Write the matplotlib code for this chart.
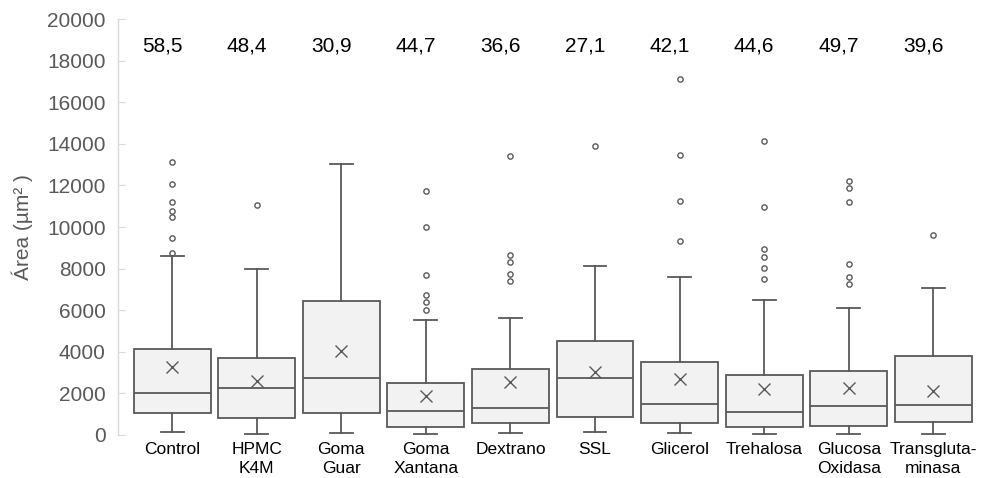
import matplotlib
matplotlib.use("Agg")
import matplotlib.pyplot as plt
from matplotlib.transforms import blended_transform_factory

plt.rcParams['font.family'] = ['Liberation Sans', 'DejaVu Sans']

categories = ["Control", "HPMC\nK4M", "Goma\nGuar", "Goma\nXantana", "Dextrano",
              "SSL", "Glicerol", "Trehalosa", "Glucosa\nOxidasa", "Transgluta-\nminasa"]

whisker_low = [128, 48, 80, 48, 80, 128, 80, 32, 32, 32]
q1 = [1074, 801, 1042, 385, 561, 881, 561, 369, 433, 641]
median = [2003, 2244, 2724, 1154, 1282, 2724, 1474, 1090, 1410, 1442]
q3 = [4135, 3702, 6426, 2484, 3157, 4535, 3526, 2885, 3093, 3798]
whisker_high = [8606, 7981, 13013, 5529, 5609, 8125, 7580, 6490, 6090, 7067]
means = [3284, 2612, 4054, 1891, 2532, 3045, 2692, 2196, 2276, 2115]
outliers = [
    [13125, 12050, 11186, 10785, 10465, 9455, 8766],
    [11057],
    [],
    [11715, 9984, 7692, 6731, 6410, 6010],
    [13397, 8654, 8333, 7740, 7420],
    [13910],
    [17115, 13445, 11250, 9343],
    [14135, 10945, 8926, 8574, 8045, 7484],
    [12211, 11859, 11186, 8237, 7580, 7260],
    [9631],
]
top_labels = [58.5, 48.4, 30.9, 44.7, 36.6, 27.1, 42.1, 44.6, 49.7, 39.6]

edge = "#595959"
fill = "#f2f2f2"

fig = plt.figure(figsize=(9.84, 4.78), dpi=100)
ax = fig.add_axes([0.12, 0.09, 0.88, 0.870])

stats = []
for i, name in enumerate(categories):
    stats.append(dict(label=name, whislo=whisker_low[i], q1=q1[i], med=median[i],
                      q3=q3[i], whishi=whisker_high[i], mean=means[i],
                      fliers=outliers[i]))

positions = list(range(len(categories)))
ax.bxp(stats, positions=positions, widths=0.91, patch_artist=True,
       showmeans=True, showfliers=True,
       boxprops=dict(facecolor=fill, edgecolor=edge, linewidth=1.3),
       medianprops=dict(color=edge, linewidth=1.3),
       whiskerprops=dict(color=edge, linewidth=1.3),
       capprops=dict(color=edge, linewidth=1.3),
       capwidths=0.27,
       meanprops=dict(marker="x", markeredgecolor=edge, markersize=8.5,
                      markeredgewidth=1.0, linestyle="none"),
       flierprops=dict(marker="o", markerfacecolor="none", markeredgecolor=edge,
                       markersize=3.8, markeredgewidth=1.0, linestyle="none"))

ax.set_xlim(-0.64, 9.6)
ax.set_ylim(0, 20000)
ax.set_yticks(range(0, 20001, 2000))
ax.set_xticks(positions)
ax.set_xticklabels(categories, fontsize=12.5, color="black", linespacing=1.35)

ax.tick_params(axis="y", direction="in", length=5, color="#d9d9d9",
               labelsize=15, labelcolor=edge, pad=9)
ax.tick_params(axis="x", length=0, pad=5)

for side in ("top", "right", "bottom"):
    ax.spines[side].set_visible(False)
ax.spines["left"].set_color("#d9d9d9")
ax.spines["left"].set_linewidth(1.0)

ax.set_ylabel("Área (µm² )", fontsize=15, color=edge, labelpad=10)

trans = blended_transform_factory(ax.transData, ax.transAxes)
for i, v in enumerate(top_labels):
    ax.text(positions[i] - 0.12, 0.935, f"{v:.1f}".replace(".", ","),
            transform=trans, ha="center", va="center", fontsize=15, color="black")

fig.savefig("out.png", dpi=100)
